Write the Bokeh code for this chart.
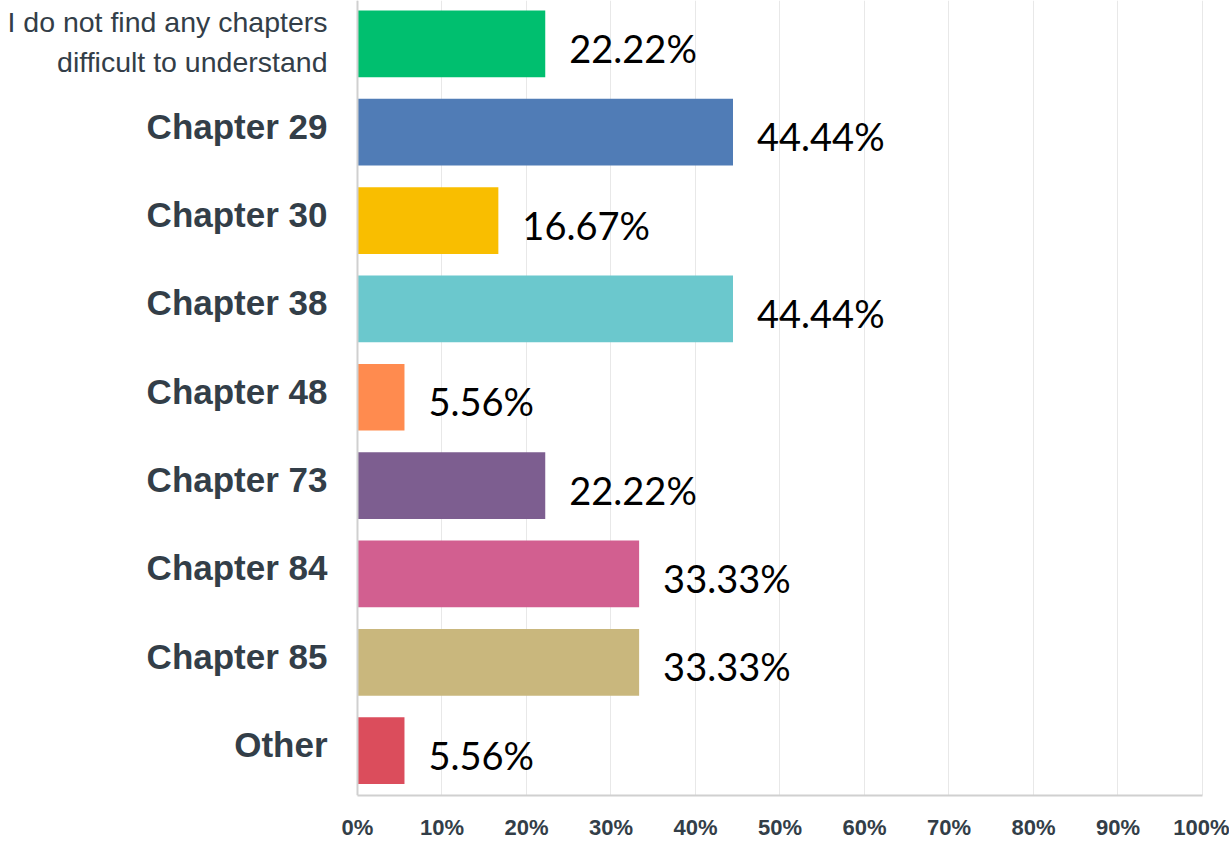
from bokeh.plotting import figure
from bokeh.models import Range1d, FixedTicker, ColumnDataSource, Span
from bokeh.embed import file_html
from bokeh.resources import INLINE
from bokeh.core.properties import value

categories = [
    "I do not find any chapters\ndifficult to understand",
    "Chapter 29", "Chapter 30", "Chapter 38", "Chapter 48",
    "Chapter 73", "Chapter 84", "Chapter 85", "Other",
]
percentages = [22.22, 44.44, 16.67, 44.44, 5.56, 22.22, 33.33, 33.33, 5.56]
bar_colors = ["#00BF6F", "#507CB6", "#F9BE00", "#6BC8CD", "#FF8B4F",
              "#7D5E90", "#D25F90", "#C9B77D", "#DB4D5C"]
x_ticks = [0, 10, 20, 30, 40, 50, 60, 70, 80, 90, 100]
x_tick_labels = ["0%", "10%", "20%", "30%", "40%", "50%", "60%", "70%", "80%", "90%", "100%"]

TEXT = "#333e48"
AXIS = "#d0d0d0"

# layout: the frame spans the whole width; the label column lies left of x=0
X_START, X_END = -42.25, 103.2
Y_BOTTOM, Y_TOP = 8.507, -0.49

positions = list(range(len(categories)))
src = ColumnDataSource(dict(
    y=positions,
    pct=percentages,
    color=bar_colors,
    label=[f"{v:.2f}%" for v in percentages],
))
first_src = ColumnDataSource(dict(y=positions[:1], zero=[0], name=categories[:1]))
rest_src = ColumnDataSource(dict(y=positions[1:], zero=[0] * (len(categories) - 1),
                                 name=categories[1:]))

p = figure(width=1229, height=842, output_backend="svg", toolbar_location=None,
           x_range=Range1d(X_START, X_END), y_range=Range1d(Y_BOTTOM, Y_TOP),
           min_border_left=0, min_border_right=0, min_border_top=0,
           min_border_bottom=44)
p.outline_line_color = None

p.hbar(y="y", left=0, right="pct", height=0.755, fill_color="color",
       line_color=None, source=src)

# value labels
p.text(x="pct", y="y", text="label", source=src, x_offset=24, y_offset=4,
       text_align="left", text_baseline="middle", text_color="#000000",
       text_font=value("Lato"), text_font_size="38px")

# category labels
p.text(x="zero", y="y", text="name", source=rest_src, x_offset=-30, y_offset=-6,
       text_align="right", text_baseline="middle", text_color=TEXT,
       text_font=value("Liberation Sans"), text_font_style="bold",
       text_font_size="35px")
p.text(x="zero", y="y", text="name", source=first_src, x_offset=-30, y_offset=-2,
       text_align="right", text_baseline="middle", text_color=TEXT,
       text_font=value("Liberation Sans"), text_font_size="28.5px",
       text_line_height=1.25)

# vertical axis line at 0
p.add_layout(Span(location=0, dimension="height", line_color=AXIS, line_width=2))

# x axis
p.xaxis.ticker = FixedTicker(ticks=x_ticks)
p.xaxis.bounds = (x_ticks[0], x_ticks[-1])
p.xaxis.major_label_overrides = {t: l for t, l in zip(x_ticks, x_tick_labels)}
p.xaxis.major_tick_line_color = None
p.xaxis.minor_tick_line_color = None
p.xaxis.axis_line_color = AXIS
p.xaxis.axis_line_width = 2
p.xaxis.major_label_text_font = "Liberation Sans"
p.xaxis.major_label_text_font_style = "bold"
p.xaxis.major_label_text_font_size = "22px"
p.xaxis.major_label_text_color = TEXT
p.xaxis.major_label_standoff = 13

p.yaxis.visible = False

p.xgrid.grid_line_color = "#e8e8e8"
p.xgrid.grid_line_width = 1
p.ygrid.grid_line_color = None

open("out.html", "w").write(file_html(p, INLINE))
